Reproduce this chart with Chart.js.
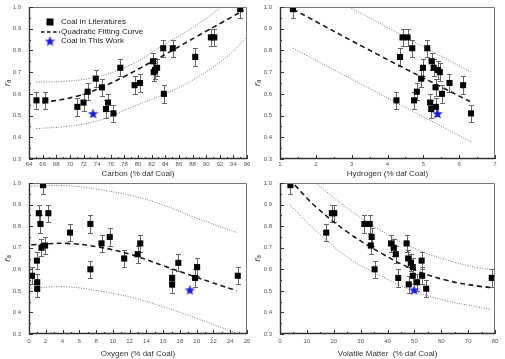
<!DOCTYPE html>
<html><head><meta charset="utf-8">
<script src="https://cdn.jsdelivr.net/npm/chart.js@4/dist/chart.umd.min.js"></script>
<style>
html,body{margin:0;padding:0;background:#fff;}
#wrap{position:relative;width:505px;height:359px;overflow:hidden;background:#fff;}
canvas{position:absolute;}
</style></head><body>
<div id="wrap">
<canvas id="c1" width="254" height="180" style="left:0px;top:0px;width:254px;height:180px"></canvas>
<canvas id="c2" width="251" height="180" style="left:251px;top:0px;width:251px;height:180px"></canvas>
<canvas id="c3" width="254" height="183" style="left:0px;top:176px;width:254px;height:183px"></canvas>
<canvas id="c4" width="251" height="183" style="left:251px;top:176px;width:251px;height:183px"></canvas>
</div>
<script>
// ---------------- data ----------------
const errorBar = 0.04;
const yTickLabels = ['0.3','0.4','0.5','0.6','0.7','0.8','0.9','1.0'];
const legendLabels = ['Coal in Literatures', 'Quadratic Fitting Curve', 'Coal in This Work'];

// Carbon
const carbonX = [65.1, 66.4, 71.1, 72.0, 72.6, 73.8, 74.7, 75.3, 75.6, 76.4, 77.4, 79.5, 80.3, 82.2, 82.3, 82.5, 82.8, 83.7, 83.8, 85.1, 88.4, 90.7, 91.2, 95.0];
const carbonY = [0.57, 0.57, 0.54, 0.56, 0.61, 0.67, 0.63, 0.53, 0.56, 0.51, 0.72, 0.64, 0.65, 0.75, 0.70, 0.71, 0.72, 0.81, 0.60, 0.81, 0.77, 0.86, 0.86, 0.99];
const carbonStar = [73.4, 0.51];
const carbonFitX = [66.0, 71.3, 74.65, 78.0, 81.85, 85.2, 88.6, 92.4, 95.5];
const carbonFitY = [0.558, 0.591, 0.63, 0.68, 0.745, 0.803, 0.864, 0.93, 0.985];
const carbonUpX = [65.05, 69.4, 74.2, 79.0, 83.8, 88.6, 92.0];
const carbonUpY = [0.655, 0.658, 0.68, 0.735, 0.826, 0.917, 0.995];
const carbonLoX = [65.05, 69.4, 74.2, 79.0, 83.8, 88.6, 93.4, 96.0];
const carbonLoY = [0.44, 0.45, 0.477, 0.538, 0.598, 0.674, 0.78, 0.864];

// Hydrogen
const hydroX = [1.36, 4.25, 4.35, 4.42, 4.56, 4.69, 4.74, 4.82, 4.94, 4.99, 5.11, 5.19, 5.22, 5.23, 5.29, 5.34, 5.35, 5.41, 5.46, 5.52, 5.73, 6.11, 6.33];
const hydroY = [0.99, 0.57, 0.77, 0.86, 0.86, 0.81, 0.57, 0.61, 0.67, 0.72, 0.81, 0.56, 0.53, 0.75, 0.72, 0.63, 0.54, 0.71, 0.70, 0.60, 0.65, 0.64, 0.51];
const hydroStar = [5.40, 0.51];
const hydroFitX = [1.36, 3.8, 6.30];
const hydroFitY = [0.99, 0.775, 0.565];
const hydroUpX = [2.99, 6.33];
const hydroUpY = [0.995, 0.70];
const hydroLoX = [1.36, 6.33];
const hydroLoY = [0.81, 0.379];

// Oxygen
const oxyX = [0.35, 0.94, 0.98, 0.98, 1.17, 1.37, 1.49, 1.68, 1.92, 2.31, 4.89, 7.32, 7.32, 8.65, 9.63, 11.35, 12.96, 13.27, 17.07, 17.07, 17.81, 19.81, 20.05, 24.9];
const oxyY = [0.57, 0.64, 0.54, 0.51, 0.86, 0.81, 0.70, 0.99, 0.71, 0.86, 0.77, 0.81, 0.60, 0.72, 0.75, 0.65, 0.67, 0.72, 0.56, 0.53, 0.63, 0.56, 0.61, 0.57];
const oxyStar = [19.19, 0.505];
const oxyFitX = [0.27, 4.39, 8.3, 12.2, 16.1, 20.05, 24.8];
const oxyFitY = [0.714, 0.72, 0.703, 0.668, 0.615, 0.562, 0.50];
const oxyUpX = [0.27, 4.39, 8.3, 12.2, 16.1, 20.05, 24.8];
const oxyUpY = [0.985, 0.988, 0.97, 0.942, 0.897, 0.836, 0.77];
const oxyLoX = [0.27, 4.39, 8.3, 12.2, 16.1, 20.05, 24.8];
const oxyLoY = [0.513, 0.519, 0.50, 0.47, 0.425, 0.372, 0.303];

// Volatile matter
const vmX = [3.87, 17.2, 19.3, 20.2, 31.4, 33.4, 33.8, 34.1, 35.2, 41.3, 42.3, 43.1, 44.0, 47.1, 47.7, 47.9, 48.7, 49.4, 49.4, 51.0, 52.7, 52.9, 54.4, 78.8];
const vmY = [0.99, 0.77, 0.86, 0.86, 0.81, 0.81, 0.71, 0.75, 0.60, 0.72, 0.70, 0.67, 0.56, 0.72, 0.65, 0.53, 0.63, 0.61, 0.57, 0.54, 0.64, 0.57, 0.51, 0.56];
const vmStar = [49.9, 0.505];
const vmFitX = [5.5, 13.3, 25.4, 37.5, 49.5, 61.6, 73.7, 78.8];
const vmFitY = [0.99, 0.89, 0.77, 0.676, 0.60, 0.55, 0.522, 0.515];
const vmUpX = [13.9, 25.4, 37.5, 49.5, 61.6, 73.7, 79.1];
const vmUpY = [0.995, 0.88, 0.78, 0.70, 0.645, 0.607, 0.597];
const vmLoX = [3.6, 13.3, 25.4, 37.5, 49.5, 61.6, 73.7, 78.6];
const vmLoY = [0.90, 0.78, 0.653, 0.57, 0.50, 0.455, 0.425, 0.413];

// ---------------- rendering ----------------
Chart.defaults.font.family = "'Liberation Sans', Arial, sans-serif";
Chart.defaults.color = '#444';

function makeStar(size, color) {
  const c = document.createElement('canvas');
  c.width = c.height = size;
  const g = c.getContext('2d');
  const cx = size / 2, cy = size / 2 + 0.6, R = size / 2, r = R * 0.42;
  g.beginPath();
  for (let i = 0; i < 10; i++) {
    const ang = -Math.PI / 2 + i * Math.PI / 5;
    const rad = i % 2 ? r : R;
    g.lineTo(cx + rad * Math.cos(ang), cy + rad * Math.sin(ang));
  }
  g.closePath();
  g.fillStyle = color;
  g.fill();
  return c;
}
const starImg = makeStar(11, '#1c1ce0');

const pts = (xs, ys) => xs.map((x, i) => ({x: x, y: ys[i]}));

const framePlugin = {
  id: 'frame',
  beforeDatasetsDraw(chart) {
    const {ctx, chartArea: a, scales: {x, y}} = chart;
    ctx.save();
    ctx.beginPath(); ctx.rect(a.left, a.top, a.width, a.height); ctx.clip();
    ctx.strokeStyle = '#666'; ctx.lineWidth = 1;
    chart.data.datasets.forEach(ds => {
      if (!ds.errorBar) return;
      ds.data.forEach(p => {
        const px = Math.round(x.getPixelForValue(p.x)) + 0.5;
        const y1 = Math.round(y.getPixelForValue(p.y - ds.errorBar)) + 0.5;
        const y2 = Math.round(y.getPixelForValue(p.y + ds.errorBar)) + 0.5;
        ctx.beginPath();
        ctx.moveTo(px, y1); ctx.lineTo(px, y2);
        ctx.moveTo(px - 2.5, y1); ctx.lineTo(px + 2.5, y1);
        ctx.moveTo(px - 2.5, y2); ctx.lineTo(px + 2.5, y2);
        ctx.stroke();
      });
    });
    ctx.restore();
  },
  afterDraw(chart, args, opts) {
    const {ctx, chartArea: a, scales: {x, y}} = chart;
    ctx.save();
    // frame
    ctx.strokeStyle = '#777'; ctx.lineWidth = 1;
    ctx.beginPath();
    ctx.moveTo(a.left, a.top + 0.5); ctx.lineTo(a.right - 0.5, a.top + 0.5); ctx.lineTo(a.right - 0.5, a.bottom);
    ctx.stroke();
    ctx.strokeStyle = '#333'; ctx.lineWidth = 1.4;
    ctx.beginPath();
    ctx.moveTo(a.left + 0.5, a.top); ctx.lineTo(a.left + 0.5, a.bottom - 0.5); ctx.lineTo(a.right, a.bottom - 0.5);
    ctx.stroke();
    // inward ticks
    ctx.strokeStyle = '#333'; ctx.lineWidth = 1;
    const xt = x.ticks.map(t => t.value);
    ctx.beginPath();
    xt.forEach((v, i) => {
      const px = Math.round(x.getPixelForValue(v)) + 0.5;
      ctx.moveTo(px, a.bottom); ctx.lineTo(px, a.bottom - 4);
      if (i < xt.length - 1) {
        const mx = Math.round(x.getPixelForValue((v + xt[i + 1]) / 2)) + 0.5;
        ctx.moveTo(mx, a.bottom); ctx.lineTo(mx, a.bottom - 2);
      }
    });
    const yt = y.ticks.map(t => t.value);
    yt.forEach((v, i) => {
      const py = Math.round(y.getPixelForValue(v)) + 0.5;
      ctx.moveTo(a.left, py); ctx.lineTo(a.left + 4, py);
      if (i < yt.length - 1) {
        const my = Math.round(y.getPixelForValue((v + yt[i + 1]) / 2)) + 0.5;
        ctx.moveTo(a.left, my); ctx.lineTo(a.left + 2, my);
      }
    });
    ctx.stroke();
    // legend (panel 1 only)
    if (opts && opts.legend) {
      const ds = chart.data.datasets;
      const lx = a.left + 21, tx = a.left + 32;
      const rows = [a.top + 15, a.top + 25, a.top + 34];
      ctx.font = "8px 'Liberation Sans', Arial, sans-serif";
      ctx.fillStyle = '#222'; ctx.textBaseline = 'middle'; ctx.textAlign = 'left';
      // square
      ctx.fillStyle = '#000';
      ctx.fillRect(lx - 3.5, rows[0] - 3.5, 7, 7);
      ctx.fillStyle = '#222';
      ctx.fillText(ds[0].label, tx, rows[0]);
      // dashed line
      ctx.strokeStyle = '#111'; ctx.lineWidth = 1.5; ctx.setLineDash([3.5, 2.5]);
      ctx.beginPath(); ctx.moveTo(lx - 9, rows[1]); ctx.lineTo(lx + 10, rows[1]); ctx.stroke();
      ctx.setLineDash([]);
      ctx.fillText(ds[2].label, tx, rows[1]);
      // star
      ctx.drawImage(starImg, lx - 5.5, rows[2] - 5.5);
      ctx.fillText(ds[1].label, tx, rows[2]);
    }
    ctx.restore();
  }
};

function panel(id, cfg) {
  const canvas = document.getElementById(id);
  const H = canvas.height;
  const datasets = [
    { label: legendLabels[0], data: pts(cfg.x, cfg.y), errorBar: errorBar,
      pointStyle: 'rect', pointRadius: 4.3, pointHoverRadius: 4.3,
      backgroundColor: '#000', borderColor: '#000', borderWidth: 0, showLine: false },
    { label: legendLabels[2], data: [{x: cfg.star[0], y: cfg.star[1]}],
      pointStyle: starImg, pointRadius: 6, showLine: false },
    { label: legendLabels[1], data: pts(cfg.fitX, cfg.fitY), showLine: true, pointRadius: 0,
      borderColor: '#1a1a1a', borderWidth: 1.6, borderDash: [5, 3.5], tension: 0.4, fill: false },
    { label: '', data: pts(cfg.upX, cfg.upY), showLine: true, pointRadius: 0,
      borderColor: '#777', borderWidth: 1, borderDash: [1, 1.5], tension: 0.4, fill: false },
    { label: '', data: pts(cfg.loX, cfg.loY), showLine: true, pointRadius: 0,
      borderColor: '#777', borderWidth: 1, borderDash: [1, 1.5], tension: 0.4, fill: false }
  ];
  return new Chart(canvas, {
    type: 'scatter',
    data: { datasets },
    options: {
      responsive: false, animation: false, devicePixelRatio: 1,
      layout: { padding: { top: cfg.padTop, right: 2, left: 0, bottom: 0 } },
      plugins: { legend: { display: false }, tooltip: { enabled: false },
        frame: { legend: !!cfg.legend } },
      scales: {
        x: {
          type: 'linear', min: cfg.xmin, max: cfg.xmax,
          grid: { display: false, drawTicks: false },
          border: { display: false },
          ticks: { stepSize: cfg.xstep, padding: cfg.xTickPad, font: { size: 6 }, color: '#555', maxRotation: 0, autoSkip: false },
          title: { display: true, text: cfg.title, font: { size: 8 }, color: '#333', padding: { top: 0, bottom: cfg.titlePad } },
          afterFit(s) { s.height = H - cfg.bottom; s.paddingLeft = 0; s.paddingRight = 0; }
        },
        y: {
          type: 'linear', min: 0.3, max: 1.0,
          grid: { display: false, drawTicks: false },
          border: { display: false },
          ticks: { stepSize: 0.1, padding: 8, font: { size: 6 }, color: '#555',
            callback: (v) => yTickLabels[Math.round((v - 0.3) * 10)] },
          title: { display: true, text: 'f′ₐ', font: { size: 8, style: 'italic' }, color: '#333', padding: { top: cfg.yTitlePad, bottom: 0 } },
          afterFit(s) { s.width = 29; s.paddingTop = 0; s.paddingBottom = 0; }
        }
      }
    },
    plugins: [framePlugin]
  });
}

panel('c1', { x: carbonX, y: carbonY, star: carbonStar, fitX: carbonFitX, fitY: carbonFitY,
  upX: carbonUpX, upY: carbonUpY, loX: carbonLoX, loY: carbonLoY,
  xmin: 64, xmax: 96, xstep: 2, title: 'Carbon (% daf Coal)', padTop: 5, bottom: 159,
  xTickPad: 2, titlePad: 1, yTitlePad: 3, legend: true });
panel('c2', { x: hydroX, y: hydroY, star: hydroStar, fitX: hydroFitX, fitY: hydroFitY,
  upX: hydroUpX, upY: hydroUpY, loX: hydroLoX, loY: hydroLoY,
  xmin: 1, xmax: 7, xstep: 1, title: 'Hydrogen (% daf Coal)', padTop: 5, bottom: 159,
  xTickPad: 2, titlePad: 1, yTitlePad: 2 });
panel('c3', { x: oxyX, y: oxyY, star: oxyStar, fitX: oxyFitX, fitY: oxyFitY,
  upX: oxyUpX, upY: oxyUpY, loX: oxyLoX, loY: oxyLoY,
  xmin: 0, xmax: 26, xstep: 2, title: 'Oxygen (% daf Coal)', padTop: 5, bottom: 158,
  xTickPad: 4, titlePad: 0, yTitlePad: 3 });
panel('c4', { x: vmX, y: vmY, star: vmStar, fitX: vmFitX, fitY: vmFitY,
  upX: vmUpX, upY: vmUpY, loX: vmLoX, loY: vmLoY,
  xmin: 0, xmax: 80, xstep: 10, title: 'Volatile Matter  (% daf Coal)', padTop: 5, bottom: 158,
  xTickPad: 4, titlePad: 0, yTitlePad: 2 });
</script>
</body></html>
